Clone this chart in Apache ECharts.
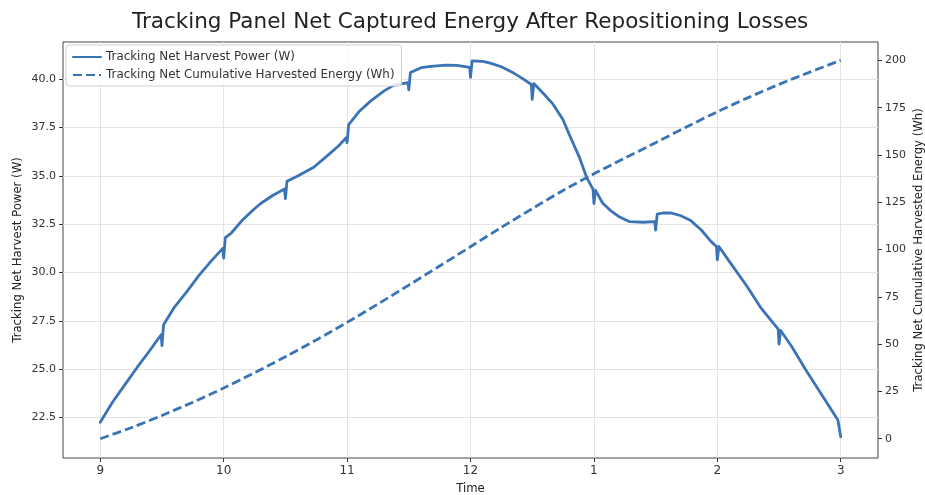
<!DOCTYPE html>
<html>
<head>
<meta charset="utf-8">
<script src="https://cdn.jsdelivr.net/npm/echarts@6/dist/echarts.min.js"></script>
<style>
html,body{margin:0;padding:0;background:#fff;}
#chart{width:925px;height:495px;}
</style>
</head>
<body>
<div id="chart"></div>
<script>
// ---- data ----
const powerTimes = [
  9.0, 9.1, 9.2, 9.3, 9.4, 9.493, 9.5, 9.513,
  9.6, 9.7, 9.8, 9.9, 9.993, 10.0, 10.013,
  10.06, 10.15, 10.25, 10.3, 10.4, 10.493, 10.5, 10.513,
  10.6, 10.73, 10.85, 10.93, 10.993, 11.0, 11.013,
  11.1, 11.19, 11.3, 11.38, 11.493, 11.5, 11.513,
  11.6, 11.68, 11.8, 11.89, 11.993, 12.0, 12.013,
  12.1, 12.16, 12.25, 12.35, 12.42, 12.493, 12.5, 12.513,
  12.6, 12.67, 12.75, 12.81, 12.88, 12.94, 12.993, 13.0, 13.013,
  13.07, 13.13, 13.2, 13.29, 13.4, 13.493, 13.5, 13.513,
  13.56, 13.62, 13.7, 13.78, 13.87, 13.95, 13.993, 14.0, 14.013,
  14.1, 14.24, 14.35, 14.493, 14.5, 14.513,
  14.6, 14.72, 14.85, 14.977, 14.99, 15.0
];
const powerValues = [
  22.25, 23.3, 24.2, 25.1, 25.95, 26.78, 26.22, 27.3,
  28.2, 29.0, 29.85, 30.6, 31.25, 30.75, 31.8,
  32.03, 32.7, 33.3, 33.57, 34.0, 34.32, 33.83, 34.72,
  35.0, 35.45, 36.1, 36.55, 36.97, 36.72, 37.65,
  38.35, 38.87, 39.4, 39.7, 39.83, 39.45, 40.35,
  40.6, 40.67, 40.73, 40.72, 40.62, 40.1, 40.95,
  40.93, 40.84, 40.65, 40.32, 40.05, 39.73, 38.96, 39.78,
  39.2, 38.7, 37.9, 37.0, 36.0, 34.94, 34.3, 33.57, 34.25,
  33.6, 33.23, 32.9, 32.63, 32.6, 32.63, 32.2, 33.02,
  33.08, 33.09, 32.95, 32.71, 32.2, 31.6, 31.35, 30.66, 31.35,
  30.55, 29.29, 28.2, 27.07, 26.3, 27.0,
  26.2, 24.93, 23.64, 22.37, 22.3, 21.5
];
const energyTimes = [
  9.0, 9.25, 9.5, 9.75, 10.0, 10.25, 10.5, 10.75, 11.0, 11.25, 11.5, 11.75,
  12.0, 12.25, 12.5, 12.75, 13.0, 13.25, 13.5, 13.75, 14.0, 14.25, 14.5, 14.75, 15.0
];
const energyValues = [
  0, 5.8, 12.3, 19.3, 26.8, 34.9, 43.3, 52.2, 61.5, 71.2, 81.2, 91.3,
  101.5, 111.7, 121.6, 131.2, 140.0, 148.3, 156.5, 164.8, 172.8, 180.3, 187.3, 193.8, 200.0
];
const xTickValues = [9, 10, 11, 12, 13, 14, 15];
const xTickLabels = ['9', '10', '11', '12', '1', '2', '3'];
const leftTickValues = [22.5, 25.0, 27.5, 30.0, 32.5, 35.0, 37.5, 40.0];
const rightTickValues = [0, 25, 50, 75, 100, 125, 150, 175, 200];

const seriesNamePower = 'Tracking Net Harvest Power (W)';
const seriesNameEnergy = 'Tracking Net Cumulative Harvested Energy (Wh)';

// ---- chart ----
const FONT = 'DejaVu Sans';
const LINE_COLOR = '#3a74b6';
const AXIS_COLOR = '#333';
const GRID_COLOR = '#e4e4e4';

const powerData = powerTimes.map((t, i) => [t, powerValues[i]]);
const energyData = energyTimes.map((t, i) => [t, energyValues[i]]);

const chart = echarts.init(document.getElementById('chart'), null, {renderer: 'canvas'});
chart.setOption({
  animation: false,
  backgroundColor: '#fff',
  textStyle: {fontFamily: FONT},
  title: {
    text: 'Tracking Panel Net Captured Energy After Repositioning Losses',
    left: 127,
    top: 6,
    textStyle: {fontFamily: FONT, fontSize: 21.5, fontWeight: 'normal', color: '#222'}
  },
  legend: {
    orient: 'vertical',
    left: 66,
    top: 45,
    padding: [6, 7, 5, 6],
    itemGap: 6,
    itemWidth: 28,
    itemHeight: 12,
    backgroundColor: 'rgba(255,255,255,0.85)',
    borderColor: '#d0d0d0',
    borderWidth: 1,
    borderRadius: 3,
    itemStyle: {opacity: 0},
    textStyle: {fontFamily: FONT, fontSize: 11.9, color: '#333'},
    data: [seriesNamePower, seriesNameEnergy]
  },
  grid: {
    left: 63, right: 47, top: 42, bottom: 37,
    outerBoundsMode: 'none',
    containLabel: false,
    show: true, borderColor: '#444', borderWidth: 1, backgroundColor: 'transparent'
  },
  xAxis: {
    type: 'value',
    min: 8.698, max: 15.302,
    name: 'Time',
    nameLocation: 'middle',
    nameGap: 25,
    nameMoveOverlap: false,
    nameTextStyle: {fontFamily: FONT, fontSize: 11.7, color: '#222'},
    axisLine: {show: false, onZero: false},
    axisTick: {show: true, length: 4, inside: false, lineStyle: {color: AXIS_COLOR}, customValues: xTickValues},
    axisLabel: {
      customValues: xTickValues,
      margin: 7,
      fontFamily: FONT, fontSize: 12, color: '#333',
      formatter: v => {
        const i = xTickValues.findIndex(x => Math.abs(x - v) < 1e-6);
        return i >= 0 ? xTickLabels[i] : '';
      }
    },
    splitLine: {show: true, lineStyle: {color: GRID_COLOR, width: 1}}
  },
  yAxis: [
    {
      type: 'value',
      position: 'left',
      min: 20.40, max: 41.93,
      name: 'Tracking Net Harvest Power (W)',
      nameLocation: 'middle',
      nameRotate: 90,
      nameGap: 39,
      nameMoveOverlap: false,
      nameTextStyle: {fontFamily: FONT, fontSize: 11.7, color: '#222'},
      axisLine: {show: false, onZero: false},
      axisTick: {show: true, length: 4, lineStyle: {color: AXIS_COLOR}, customValues: leftTickValues},
      axisLabel: {
        customValues: leftTickValues,
        margin: 7,
        fontFamily: FONT, fontSize: 11, color: '#333',
        formatter: v => v.toFixed(1)
      },
      splitLine: {show: true, lineStyle: {color: GRID_COLOR, width: 1}}
    },
    {
      type: 'value',
      position: 'right',
      min: -10.2, max: 209.7,
      name: 'Tracking Net Cumulative Harvested Energy (Wh)',
      nameLocation: 'middle',
      nameRotate: 90,
      nameGap: 35,
      nameMoveOverlap: false,
      nameTextStyle: {fontFamily: FONT, fontSize: 11.7, color: '#222'},
      axisLine: {show: false, onZero: false},
      axisTick: {show: true, length: 4, lineStyle: {color: AXIS_COLOR}, customValues: rightTickValues},
      axisLabel: {
        customValues: rightTickValues,
        margin: 7,
        fontFamily: FONT, fontSize: 11, color: '#333',
        formatter: v => String(Math.round(v))
      },
      splitLine: {show: false}
    }
  ],
  series: [
    {
      name: seriesNamePower,
      type: 'line',
      yAxisIndex: 0,
      data: powerData,
      showSymbol: false,
      symbol: 'none',
      smooth: false,
      lineStyle: {color: LINE_COLOR, width: 2.8, join: 'round', cap: 'round'},
      itemStyle: {color: LINE_COLOR},
      z: 3
    },
    {
      name: seriesNameEnergy,
      type: 'line',
      yAxisIndex: 1,
      data: energyData,
      showSymbol: false,
      symbol: 'none',
      smooth: 0.3,
      lineStyle: {color: LINE_COLOR, width: 2.8, type: [9, 4]},
      itemStyle: {color: LINE_COLOR},
      z: 3
    }
  ]
});
</script>
</body>
</html>
